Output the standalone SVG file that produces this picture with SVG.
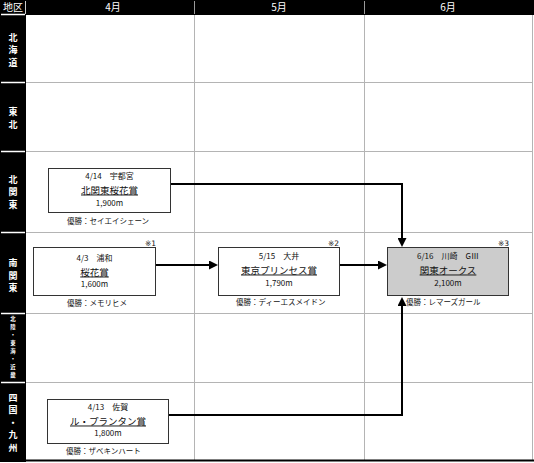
<svg xmlns="http://www.w3.org/2000/svg" width="534" height="463" viewBox="0 0 534 463">
<style>
text{font-family:"Noto Sans CJK JP","Noto Sans",sans-serif;fill:#111}
.hd{fill:#fff;font-size:10px;text-anchor:middle}
.rg{fill:#fff;font-size:9px;font-weight:bold;text-anchor:middle}
.rs{fill:#fff;font-size:5.4px;font-weight:bold;text-anchor:middle}
.grid{stroke:#b4b4b4;stroke-width:1;fill:none}
.sep{stroke:#fff;stroke-width:1.5}
.box{fill:#fff;stroke:#333;stroke-width:1}
.box.final{fill:#cccccc}
.dt{font-size:8px;text-anchor:middle}
.tt{font-size:9.5px;text-anchor:middle;text-decoration:underline}
.ds{font-size:8px;text-anchor:middle}
.wn{font-size:7.5px}
.nt{font-family:"DejaVu Sans","Liberation Sans",sans-serif;font-size:7.5px;text-anchor:end;fill:#111}
.con{stroke:#000;stroke-width:2;fill:none;marker-end:url(#ah)}
</style>
<defs>
<marker id="ah" viewBox="0 0 9 9" markerWidth="9" markerHeight="9" markerUnits="userSpaceOnUse" refX="3" refY="4.5" orient="auto">
<path d="M0,0 L9,4.5 L0,9 z" fill="#000"/>
</marker>
</defs>
<rect width="534" height="463" fill="#fff"/>
<g id="grid">
<path class="grid" d="M26 82.5H532M26 151.5H532M26 232.5H532M26 313.5H532M26 382.5H532M194.5 0V460M364.5 0V460M532.5 0V460"/>
</g>
<g id="header">
<rect x="0" y="0" width="534" height="15" fill="#000"/>
<line x1="25.5" y1="1" x2="25.5" y2="14" stroke="#ccc"/>
<line x1="194.5" y1="1" x2="194.5" y2="14" stroke="#999"/>
<line x1="364.5" y1="1" x2="364.5" y2="14" stroke="#999"/>
<text class="hd" x="13" y="11">地区</text>
<text class="hd" x="113" y="11">4月</text>
<text class="hd" x="279" y="11">5月</text>
<text class="hd" x="448" y="11">6月</text>
</g>
<g id="regions">
<rect x="0" y="14" width="26" height="448" fill="#000"/>
<line x1="0" y1="460.5" x2="534" y2="460.5" stroke="#000" stroke-width="2"/>
<path class="sep" d="M1 14.5H25M1 82.5H25M1 151.5H25M1 232.5H25M1 313.5H25M1 382.5H25"/>
<text class="rg"><tspan x="13" y="40.5">北</tspan><tspan x="13" y="53">海</tspan><tspan x="13" y="65.5">道</tspan></text>
<text class="rg"><tspan x="13" y="114.5">東</tspan><tspan x="13" y="127.5">北</tspan></text>
<text class="rg"><tspan x="13" y="182.5">北</tspan><tspan x="13" y="195">関</tspan><tspan x="13" y="207.5">東</tspan></text>
<text class="rg"><tspan x="13" y="266">南</tspan><tspan x="13" y="278.5">関</tspan><tspan x="13" y="291">東</tspan></text>
<text class="rs"><tspan x="13" y="320.5">北</tspan><tspan x="13" y="328.5">陸</tspan><tspan x="13" y="336.5">・</tspan><tspan x="13" y="344.5">東</tspan><tspan x="13" y="352.5">海</tspan><tspan x="13" y="360.5">・</tspan><tspan x="13" y="368.5">近</tspan><tspan x="13" y="376.5">畿</tspan></text>
<text class="rg"><tspan x="13" y="400.5">四</tspan><tspan x="13" y="413">国</tspan><tspan x="13" y="425.5">・</tspan><tspan x="13" y="438">九</tspan><tspan x="13" y="450.5">州</tspan></text>
</g>
<g id="connectors">
<path class="con" d="M171 184H402V241"/>
<path class="con" d="M156 265H212"/>
<path class="con" d="M339 265H381"/>
<path class="con" d="M169 415H402V303"/>
</g>
<g id="node-kitakanto-oukashou">
<rect class="box" x="48.5" y="168.5" width="122" height="44"/>
<text class="dt" x="109.5" y="179">4/14　宇都宮</text>
<text class="tt" x="109.5" y="193.5">北関東桜花賞</text>
<text class="ds" x="109.5" y="206">1,900m</text>
<text class="wn" x="67" y="224">優勝：セイエイシェーン</text>
</g>
<g id="node-oukashou">
<rect class="box" x="33.5" y="247.5" width="122" height="48"/>
<text class="nt" x="156" y="245.5">※1</text>
<text class="dt" x="94.5" y="261">4/3　浦和</text>
<text class="tt" x="94.5" y="275.5">桜花賞</text>
<text class="ds" x="94.5" y="287">1,600m</text>
<text class="wn" x="67" y="306">優勝：メモリヒメ</text>
</g>
<g id="node-tokyo-princess">
<rect class="box" x="218.5" y="247.5" width="121" height="48"/>
<text class="nt" x="339" y="245.5">※2</text>
<text class="dt" x="279" y="259">5/15　大井</text>
<text class="tt" x="279" y="273.5">東京プリンセス賞</text>
<text class="ds" x="279" y="286">1,790m</text>
<text class="wn" x="236" y="305">優勝：ディーエスメイドン</text>
</g>
<g id="node-kanto-oaks">
<rect class="box final" x="387.5" y="247.5" width="121" height="48"/>
<text class="nt" x="509" y="245.5">※3</text>
<text class="dt" x="448" y="259">6/16　川崎　GⅢ</text>
<text class="tt" x="448" y="273.5">関東オークス</text>
<text class="ds" x="448" y="286">2,100m</text>
<text class="wn" x="406" y="305">優勝：レマーズガール</text>
</g>
<g id="node-le-printemps">
<rect class="box" x="47.5" y="399.5" width="121" height="44"/>
<text class="dt" x="108" y="410">4/13　佐賀</text>
<text class="tt" x="108" y="424.5">ル・プランタン賞</text>
<text class="ds" x="108" y="436">1,800m</text>
<text class="wn" x="66" y="454">優勝：ザベキンハート</text>
</g>
</svg>
